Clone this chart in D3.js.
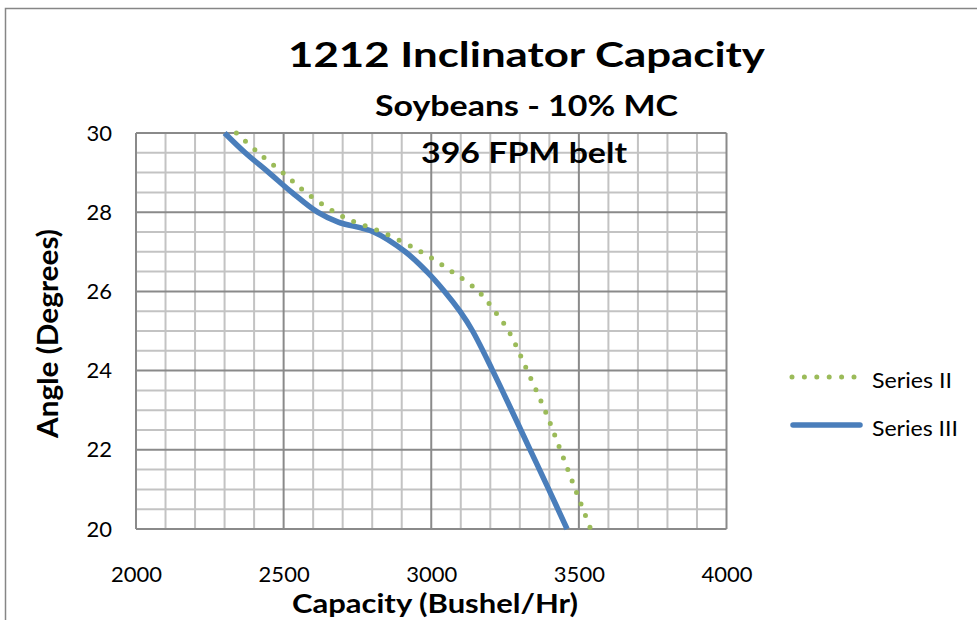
<!DOCTYPE html>
<html>
<head>
<meta charset="utf-8">
<script src="https://cdn.jsdelivr.net/npm/d3@7/dist/d3.min.js"></script>
<style>
  html, body { margin: 0; padding: 0; background: #fff; }
  svg { display: block; font-family: Lato, "Open Sans", "Liberation Sans", sans-serif; }
</style>
</head>
<body>
<svg id="chart" width="977" height="620"></svg>
<script>
// ---- data ----
const titleText = "1212 Inclinator Capacity";
const subtitle1 = "Soybeans - 10% MC";
const subtitle2 = "396 FPM belt";
const xTitle = "Capacity (Bushel/Hr)";
const yTitle = "Angle (Degrees)";
const xTicks = [2000, 2500, 3000, 3500, 4000];
const yTicks = [20, 22, 24, 26, 28, 30];
const seriesNames = ["Series II", "Series III"];

const angleII = [30, 29.5, 29, 28.5, 28, 27.75, 27.5, 27, 26.5, 26, 25.5, 25, 24, 23, 22, 21, 20];
const capII   = [2340, 2415, 2497, 2575, 2673, 2742, 2832, 2965, 3070, 3160, 3215, 3262, 3325, 3385, 3437, 3488, 3540];

const angleIII = [30, 29.5, 29, 28.5, 28, 27.75, 27.5, 27, 26.5, 26, 25.5, 25, 24, 23, 22, 21, 20];
const capIII   = [2300, 2370, 2450, 2528, 2615, 2685, 2805, 2912, 2985, 3045, 3097, 3140, 3208, 3272, 3335, 3398, 3460];

// ---- layout ----
const svg = d3.select("#chart");
const x = d3.scaleLinear().domain([2000, 4000]).range([136, 726.5]);
const y = d3.scaleLinear().domain([20, 30]).range([529, 133]);

// outer chart frame
svg.append("rect").attr("x", 5.5).attr("y", 8.5).attr("width", 1000).attr("height", 700)
  .attr("fill", "#fff").attr("stroke", "#868686").attr("stroke-width", 1.5);

// grid
const xMinor = d3.range(2000, 4001, 100);
const yMinor = d3.range(20, 30.01, 0.5);
const grid = svg.append("g");
grid.selectAll("line.vx").data(xMinor.filter(v => v % 500 !== 0)).join("line")
  .attr("x1", d => x(d)).attr("x2", d => x(d)).attr("y1", y(30)).attr("y2", y(20))
  .attr("stroke", "#c3c3c3").attr("stroke-width", 2);
grid.selectAll("line.hy").data(yMinor.filter(v => v % 2 !== 0)).join("line")
  .attr("y1", d => y(d)).attr("y2", d => y(d)).attr("x1", x(2000)).attr("x2", x(4000))
  .attr("stroke", "#c3c3c3").attr("stroke-width", 2);
grid.selectAll("line.mx").data(xTicks).join("line")
  .attr("x1", d => x(d)).attr("x2", d => x(d)).attr("y1", y(30)).attr("y2", y(20))
  .attr("stroke", "#8a8a8a").attr("stroke-width", 2);
grid.selectAll("line.my").data(yTicks).join("line")
  .attr("y1", d => y(d)).attr("y2", d => y(d)).attr("x1", x(2000)).attr("x2", x(4000))
  .attr("stroke", "#8a8a8a").attr("stroke-width", 2);

// axes
const xAxis = svg.append("g").attr("transform", `translate(0,${y(20)})`)
  .call(d3.axisBottom(x).tickValues(xTicks).tickSize(0).tickPadding(37).tickFormat(d3.format("d")));
const yAxis = svg.append("g").attr("transform", `translate(${x(2000)},0)`)
  .call(d3.axisLeft(y).tickValues(yTicks).tickSize(0).tickPadding(24).tickFormat(d3.format("d")));
[xAxis, yAxis].forEach(a => {
  a.select(".domain").remove();
  a.selectAll("text").attr("font-family", "Lato, sans-serif").attr("font-size", 22).attr("fill", "#000");
});

// series
const line = d3.line().curve(d3.curveCatmullRom.alpha(0.5)).x(d => x(d[1])).y(d => y(d[0]));
const dII = angleII.map((a, i) => [a, capII[i]]);
const dIII = angleIII.map((a, i) => [a, capIII[i]]);

svg.append("path").datum(dIII).attr("d", line)
  .attr("fill", "none").attr("stroke", "#4a7ebb").attr("stroke-width", 5.5).attr("stroke-linecap", "butt");
svg.append("path").datum(dII).attr("d", line)
  .attr("fill", "none").attr("stroke", "#9bbb59").attr("stroke-width", 5)
  .attr("stroke-linecap", "round").attr("stroke-dasharray", "0 12.3");

// legend
const leg = svg.append("g");
leg.append("line").attr("x1", 792).attr("x2", 854.1).attr("y1", 377).attr("y2", 377)
  .attr("stroke", "#9bbb59").attr("stroke-width", 5).attr("stroke-linecap", "round").attr("stroke-dasharray", "0 12.4");
leg.append("line").attr("x1", 793).attr("x2", 860).attr("y1", 425).attr("y2", 425)
  .attr("stroke", "#4a7ebb").attr("stroke-width", 5.5).attr("stroke-linecap", "round");
leg.selectAll("text").data(seriesNames).join("text")
  .attr("x", 872).attr("y", (d, i) => i === 0 ? 388 : 436)
  .attr("font-size", 22).attr("fill", "#000")
  .attr("textLength", (d, i) => i === 0 ? 80 : 86).attr("lengthAdjust", "spacingAndGlyphs")
  .text(d => d);

// titles
function label(txt, xx, yy, size, len) {
  return svg.append("text").attr("x", xx).attr("y", yy).attr("font-size", size)
    .attr("font-weight", "bold").attr("fill", "#000")
    .attr("textLength", len).attr("lengthAdjust", "spacingAndGlyphs").text(txt);
}
label(titleText, 288, 67, 35, 477);
label(subtitle1, 375, 116, 29, 303);
label(subtitle2, 421, 163, 29, 206);
label(xTitle, 292, 613, 26, 286);
svg.append("text").attr("transform", "translate(58,438) rotate(-90)")
  .attr("font-size", 29).attr("font-weight", "bold").attr("fill", "#000")
  .attr("textLength", 209).attr("lengthAdjust", "spacingAndGlyphs").text(yTitle);
</script>
</body>
</html>
